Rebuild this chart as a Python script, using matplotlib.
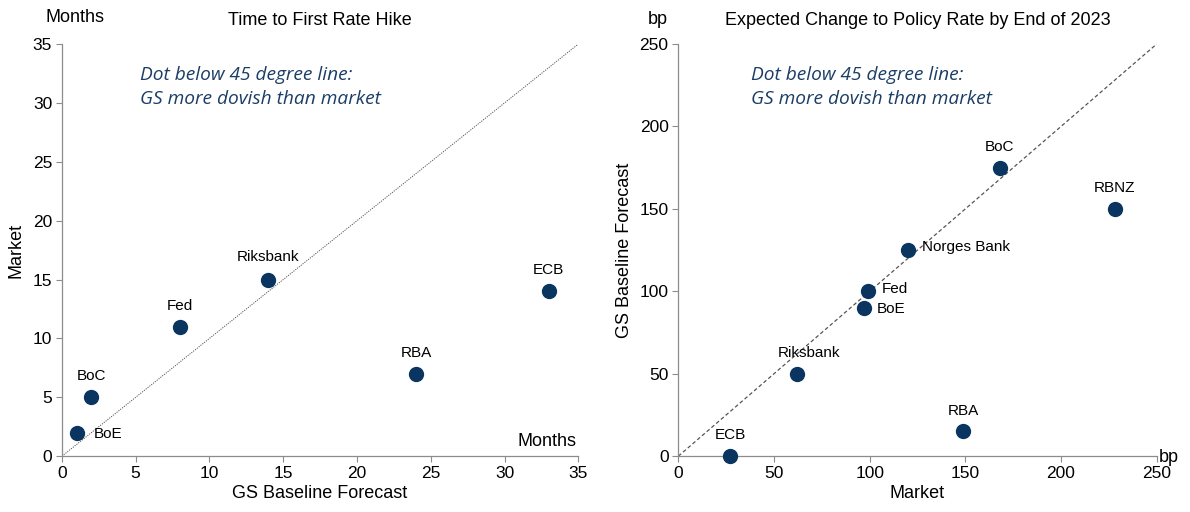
import matplotlib.pyplot as plt

plt.rcParams['font.family'] = ['Liberation Sans', 'DejaVu Sans']

# 左图: Time to First Rate Hike
left_names = ['BoE', 'BoC', 'Fed', 'Riksbank', 'RBA', 'ECB']
left_gs = [1, 2, 8, 14, 24, 33]
left_market = [2, 5, 11, 15, 7, 14]

# 右图: Expected Change to Policy Rate by End of 2023
right_names = ['ECB', 'Riksbank', 'BoE', 'Fed', 'Norges Bank', 'BoC', 'RBA', 'RBNZ']
right_market = [27, 62, 97, 99, 120, 168, 149, 228]
right_gs = [0, 50, 90, 100, 125, 175, 15, 150]

dot_color = '#0a3560'
note_color = '#1b3d66'
spine_color = '#8c8c8c'
fs = 12.5
lab_fs = 11

# 标签偏移 (点)
left_off = {'BoE': (12, -1, 'left'), 'BoC': (0, 15, 'center'), 'Fed': (0, 15, 'center'),
            'Riksbank': (0, 16, 'center'), 'RBA': (0, 15, 'center'), 'ECB': (0, 15, 'center')}
right_off = {'ECB': (0, 15, 'center'), 'Riksbank': (9, 15, 'center'), 'BoE': (9, -1, 'left'),
             'Fed': (10, 2, 'left'), 'Norges Bank': (10, 2, 'left'), 'BoC': (0, 15, 'center'),
             'RBA': (0, 15, 'center'), 'RBNZ': (0, 15, 'center')}

fig = plt.figure(figsize=(11.9, 5.12), dpi=100)
ax1 = fig.add_axes([0.052, 0.109, 0.434, 0.805])
ax2 = fig.add_axes([0.570, 0.109, 0.402, 0.805])


def style(ax):
    for s in ['top', 'right']:
        ax.spines[s].set_visible(False)
    for s in ['left', 'bottom']:
        ax.spines[s].set_color(spine_color)
        ax.spines[s].set_linewidth(0.9)
    ax.tick_params(direction='out', length=4, color=spine_color, labelsize=fs, pad=3)


# 左图
ax1.plot([0, 35], [0, 35], ls=(0, (1.2, 1.2)), lw=0.7, color='#555555')
ax1.scatter(left_gs, left_market, s=100, color=dot_color, zorder=3, clip_on=False)
for n, x, y in zip(left_names, left_gs, left_market):
    dx, dy, ha = left_off[n]
    ax1.annotate(n, (x, y), xytext=(dx, dy), textcoords='offset points',
                 ha=ha, va='center', fontsize=lab_fs)
ax1.set_xlim(0, 35)
ax1.set_ylim(0, 35)
ax1.set_xticks(range(0, 36, 5))
ax1.set_yticks(range(0, 36, 5))
ax1.set_xlabel('GS Baseline Forecast', fontsize=fs + 0.5, labelpad=3)
ax1.set_ylabel('Market', fontsize=fs + 0.5, labelpad=6)
ax1.set_title('Time to First Rate Hike', fontsize=fs + 0.5, pad=14)
ax1.text(34.9, 0.5, 'Months', ha='right', va='bottom', fontsize=fs + 0.5)
style(ax1)

# 右图
ax2.plot([0, 250], [0, 250], ls=(0, (3, 2)), lw=0.9, color='#555555')
ax2.scatter(right_market, right_gs, s=100, color=dot_color, zorder=3, clip_on=False)
for n, x, y in zip(right_names, right_market, right_gs):
    dx, dy, ha = right_off[n]
    ax2.annotate(n, (x, y), xytext=(dx, dy), textcoords='offset points',
                 ha=ha, va='center', fontsize=lab_fs)
ax2.set_xlim(0, 250)
ax2.set_ylim(0, 250)
ax2.set_xticks(range(0, 251, 50))
ax2.set_yticks(range(0, 251, 50))
ax2.set_xlabel('Market', fontsize=fs + 0.5, labelpad=3)
ax2.set_ylabel('GS Baseline Forecast', fontsize=fs + 0.5, labelpad=5)
ax2.set_title('Expected Change to Policy Rate by End of 2023', fontsize=fs + 0.5, pad=14)
style(ax2)

fig.text(75 / 1190, 1 - 17 / 512, 'Months', ha='center', va='center', fontsize=fs + 0.5)
fig.text(658 / 1190, 1 - 19 / 512, 'bp', ha='center', va='center', fontsize=fs + 0.5)
fig.text(1169 / 1190, 1 - 457 / 512, 'bp', ha='center', va='center', fontsize=fs + 0.5)

note = 'Dot below 45 degree line:\nGS more dovish than market'
fig.text(140 / 1190, 1 - 87 / 512, note, ha='left', va='center', fontsize=13.8,
         style='italic', color=note_color, family=['Open Sans', 'DejaVu Sans'], linespacing=1.5)
fig.text(751 / 1190, 1 - 87 / 512, note, ha='left', va='center', fontsize=13.8,
         style='italic', color=note_color, family=['Open Sans', 'DejaVu Sans'], linespacing=1.5)

fig.savefig('out.png', dpi=100)
